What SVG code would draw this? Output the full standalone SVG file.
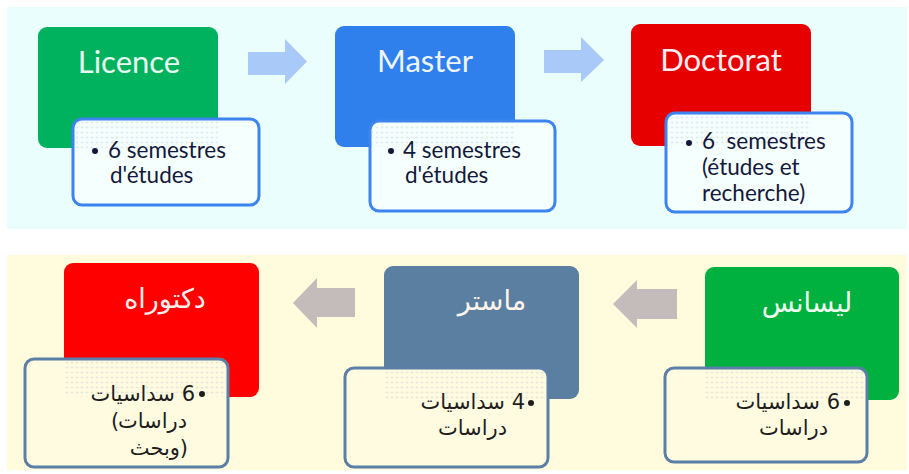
<svg xmlns="http://www.w3.org/2000/svg" width="909" height="474" viewBox="0 0 909 474">
<style>
.title{font-family:Lato,"Liberation Sans",sans-serif;font-size:31px;text-anchor:middle}
.det{font-family:Lato,"Liberation Sans",sans-serif;font-size:22.5px;fill:#14183a}
.atitle{font-family:"DejaVu Sans","Liberation Sans",sans-serif;font-size:27px;text-anchor:middle}
.adet{font-family:"DejaVu Sans","Liberation Sans",sans-serif;font-size:21px;fill:#1e1e1e}
.dbox{fill:#f4fffe;stroke:#3d84ee;stroke-width:3}
.abox{fill:#fffbe0;stroke:#5b7fa6;stroke-width:3}
.tarr{fill:#a9c9f8}
.barr{fill:#c4bbbb}
</style>
<defs>
<pattern id="dots" width="5" height="5" patternUnits="userSpaceOnUse">
<path d="M0.5 2.5h3M2 1v3" stroke="#a8b4c8" stroke-width="0.6" opacity="0.35"/>
</pattern>
</defs>
<rect x="7" y="7" width="900" height="222" fill="#eafefe"/>
<rect x="7" y="255" width="900" height="215" fill="#fffbdc"/>
<g id="connectors">
<polygon class="tarr" points="248,52 285,52 285,39 307,61.5 285,84 285,75 248,75"/>
<polygon class="tarr" points="544,50 581,50 581,37 604,60 581,82 581,73 544,73"/>
<polygon class="barr" points="355,288 317,288 317,278 293,303 317,328 317,317 355,317"/>
<polygon class="barr" points="677,289 637,289 637,280 613,304 637,328 637,319 677,319"/>
</g>
<g id="licence">
<rect x="38" y="27" width="180" height="121" rx="9" fill="#00b15e"/>
<text class="title" x="129" y="73" fill="#e9fbf0">Licence</text>
<rect class="dbox" x="73" y="119" width="186" height="86" rx="9"/>
<rect x="75" y="121" width="143" height="27" fill="url(#dots)"/>
<circle cx="95" cy="151" r="3" fill="#14183a"/>
<text class="det" x="108" y="158">6 semestres</text>
<text class="det" x="110" y="183">d'études</text>
</g>
<g id="master">
<rect x="335" y="26" width="180" height="121" rx="9" fill="#2f80ed"/>
<text class="title" x="425" y="72" fill="#eef5ff">Master</text>
<rect class="dbox" x="370" y="121" width="185" height="90" rx="9"/>
<rect x="372" y="123" width="143" height="24" fill="url(#dots)"/>
<circle cx="391" cy="151" r="3" fill="#14183a"/>
<text class="det" x="403" y="158">4 semestres</text>
<text class="det" x="405" y="183">d'études</text>
</g>
<g id="doctorat">
<rect x="631" y="24" width="180" height="122" rx="9" fill="#e60000"/>
<text class="title" x="721" y="71" fill="#ffeef2">Doctorat</text>
<rect class="dbox" x="666" y="113" width="186" height="99" rx="9"/>
<rect x="668" y="115" width="143" height="31" fill="url(#dots)"/>
<circle cx="689" cy="143" r="3" fill="#14183a"/>
<text class="det" x="702" y="149" xml:space="preserve">6  semestres</text>
<text class="det" x="702" y="175">(études et</text>
<text class="det" x="702" y="201">recherche)</text>
</g>
<g id="doctorat-ar">
<rect x="64" y="263" width="195" height="134" rx="9" fill="#ff0000"/>
<text class="atitle" x="165" y="308" fill="#ffeeee">دكتوراه</text>
<rect class="abox" x="25" y="359" width="203" height="108" rx="9"/>
<rect x="64" y="361" width="162" height="36" fill="url(#dots)"/>
<circle cx="202" cy="394" r="3" fill="#1e1e1e"/>
<text class="adet" x="195" y="401" direction="rtl" text-anchor="start">6 سداسيات</text>
<text class="adet" x="111" y="428" text-anchor="start">(</text>
<text class="adet" x="187" y="428" text-anchor="end">دراسات</text>
<text class="adet" x="180" y="455" text-anchor="end">وبحث</text>
<text class="adet" x="188" y="455" text-anchor="end">)</text>
</g>
<g id="master-ar">
<rect x="384" y="266" width="195" height="133" rx="9" fill="#5b7fa0"/>
<text class="atitle" x="492" y="310" fill="#fff4ea">ماستر</text>
<rect class="abox" x="345" y="368" width="203" height="99" rx="9"/>
<rect x="384" y="370" width="162" height="29" fill="url(#dots)"/>
<circle cx="531" cy="403" r="3" fill="#1e1e1e"/>
<text class="adet" x="525" y="409" direction="rtl" text-anchor="start">4 سداسيات</text>
<text class="adet" x="507" y="435" text-anchor="end">دراسات</text>
</g>
<g id="licence-ar">
<rect x="705" y="267" width="194" height="133" rx="9" fill="#00b140"/>
<text class="atitle" x="807" y="312" fill="#f0fff0">ليسانس</text>
<rect class="abox" x="665" y="368" width="202" height="94" rx="9"/>
<rect x="705" y="370" width="160" height="30" fill="url(#dots)"/>
<circle cx="847" cy="403" r="3" fill="#1e1e1e"/>
<text class="adet" x="840" y="409" direction="rtl" text-anchor="start">6 سداسيات</text>
<text class="adet" x="828" y="435" text-anchor="end">دراسات</text>
</g>
</svg>
